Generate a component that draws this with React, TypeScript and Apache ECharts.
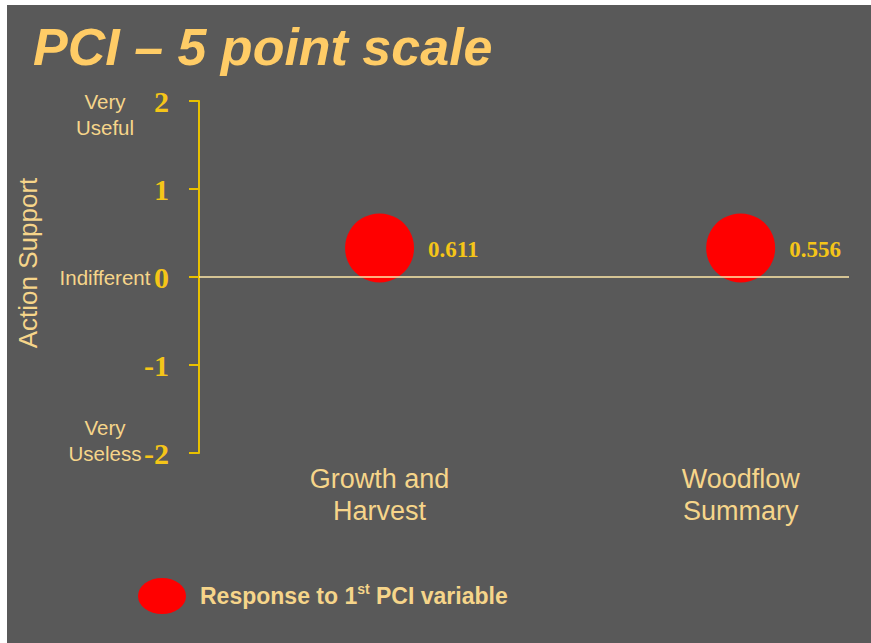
import React, { useEffect, useRef } from "react";
import * as echarts from "echarts";

const categories = ["Growth and\nHarvest", "Woodflow\nSummary"];
const categoryPositions = [1, 3];
const plottedValues = [0.33, 0.33];
const valueLabels = ["0.611", "0.556"];
const yTicks = [-2, -1, 0, 1, 2];
const yWordLabels = [
  { value: 2, text: "Very\nUseful", anchor: "top" },
  { value: 0, text: "Indifferent", anchor: "middle" },
  { value: -2, text: "Very\nUseless", anchor: "bottom" },
];
const seriesName = "Response to 1st PCI variable";
const yAxisName = "Action Support";

const CREAM = "#F6D58A";
const GOLD = "#F5C518";
const BG = "#595959";

export default function App() {
  const ref = useRef<HTMLDivElement>(null);
  useEffect(() => {
    const chart = echarts.init(ref.current!, null, { renderer: "svg" });
    const option: any = {
      animation: false,
      backgroundColor: "#ffffff",
      title: {
        text: "PCI – 5 point scale",
        left: 28,
        top: 16,
        textStyle: {
          fontFamily: "Liberation Sans, Arial",
          fontStyle: "italic",
          fontWeight: "bold",
          fontSize: 52,
          color: "#FFCC66",
        },
      },
      legend: {
        left: 138,
        top: 578,
        icon: "path://M50,0 A50,50 0 1,1 50,100 A50,50 0 1,1 50,0 Z",
        itemWidth: 48,
        itemHeight: 36,
        symbolKeepAspect: false,
        data: [seriesName],
        formatter: () => "{f|Response to 1}{s|st}{b| PCI variable}",
        textStyle: {
          rich: {
            f: {
              fontFamily: "Liberation Sans, Arial",
              fontWeight: "bold",
              fontSize: 23,
              color: CREAM,
              lineHeight: 28,
              padding: [0, 0, 0, 9],
            },
            b: {
              fontFamily: "Liberation Sans, Arial",
              fontWeight: "bold",
              fontSize: 23,
              color: CREAM,
              lineHeight: 28,
            },
            s: {
              fontFamily: "Liberation Sans, Arial",
              fontWeight: "bold",
              fontSize: 14,
              color: CREAM,
              verticalAlign: "top",
              lineHeight: 28,
            },
          },
        },
        padding: [0, 0, 0, 0],
      },
      grid: { left: 199, right: 22, top: 101, bottom: 190 },
      xAxis: {
        type: "value",
        min: 0,
        max: 3.6,
        interval: 1,
        axisLine: { show: false, onZero: false },
        axisTick: { show: false },
        splitLine: { show: false },
        axisLabel: {
          margin: 10,
          fontFamily: "Liberation Sans, Arial",
          fontSize: 27,
          lineHeight: 32,
          color: CREAM,
          showMaxLabel: false,
          formatter: (v: number) => {
            const i = categoryPositions.indexOf(v);
            return i >= 0 ? categories[i] : "";
          },
        },
      },
      yAxis: {
        type: "value",
        min: yTicks[0],
        max: yTicks[yTicks.length - 1],
        interval: 1,
        axisLine: { show: true, lineStyle: { color: "#E8C000", width: 2 } },
        axisTick: { show: true, length: 10, lineStyle: { color: "#E8C000", width: 2 } },
        splitLine: { show: false },
        axisLabel: {
          margin: 30,
          fontFamily: "Liberation Serif, Times New Roman",
          fontWeight: "bold",
          fontSize: 30,
          color: GOLD,
        },
      },
      series: [
        {
          name: seriesName,
          type: "scatter",
          symbol: "circle",
          symbolSize: 69,
          itemStyle: { color: "#FF0000", opacity: 1 },
          data: categoryPositions.map((x, i) => [x, plottedValues[i]]),
          label: {
            show: true,
            position: "right",
            distance: 14,
            offset: [0, 2],
            formatter: (p: any) => valueLabels[p.dataIndex],
            fontFamily: "Liberation Serif, Times New Roman",
            fontWeight: "bold",
            fontSize: 23,
            color: GOLD,
          },
          markLine: {
            silent: true,
            symbol: "none",
            label: { show: false },
            lineStyle: { color: "#FFE9A8", width: 1.5, type: "solid" },
            data: [{ yAxis: 0 }],
          },
        },
      ],
    };
    chart.setOption(option);
    const words = yWordLabels.map((w) => {
      const y = chart.convertToPixel({ yAxisIndex: 0 }, w.value) as number;
      const yy = w.anchor === "top" ? y - 13 : w.anchor === "bottom" ? y + 13 : y;
      return {
        type: "text",
        x: 105,
        y: yy,
        z: 10,
        style: {
          text: w.text,
          align: "center",
          verticalAlign: w.anchor,
          fontFamily: "Liberation Sans, Arial",
          fontSize: 20.5,
          lineHeight: 26,
          fill: CREAM,
        },
      };
    });
    chart.setOption({
      graphic: [
        {
          type: "rect",
          z: -100,
          shape: { x: 7, y: 5, width: 871, height: 643 },
          style: { fill: BG },
          silent: true,
        },
        {
          type: "text",
          x: 28,
          y: 263,
          rotation: Math.PI / 2,
          z: 10,
          style: {
            text: yAxisName,
            align: "center",
            verticalAlign: "middle",
            fontFamily: "Liberation Sans, Arial",
            fontSize: 26,
            fill: CREAM,
          },
        },
        ...words,
      ],
    });
    return () => chart.dispose();
  }, []);
  return (
    <div
      ref={ref}
      style={{ position: "absolute", left: 0, top: 0, width: 871, height: 643 }}
    />
  );
}
